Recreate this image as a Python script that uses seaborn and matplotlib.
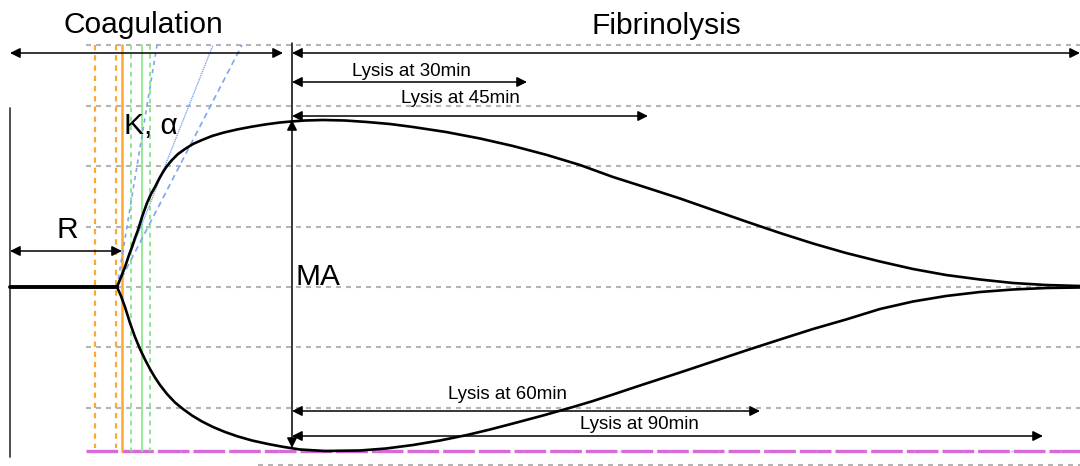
import matplotlib
matplotlib.use("Agg")
import matplotlib.pyplot as plt
import numpy as np
import pandas as pd
import seaborn as sns

# Thromboelastogram trace, schematic time units (horizontal) and amplitude
# measured from the baseline (vertical, px-like units).
baseline_time = [10, 117]

upper_time = [117, 121, 125, 129, 132, 135, 138, 142, 147, 151, 155, 159, 163, 167, 172,
              178, 185, 193, 202, 212, 224, 237, 250, 265, 280, 291, 305, 323, 345, 367,
              390, 413, 446, 480, 513, 547, 580, 613, 646, 680, 713, 746, 780, 813, 846,
              880, 913, 946, 980, 1013, 1046, 1080]
upper_amp = [0, 10, 20, 32, 40, 49, 57, 70, 84, 93, 100, 108, 115, 121, 127,
             133, 138, 143, 147, 151, 154.5, 157.5, 160, 162.5, 164.5, 165.5, 166.5, 167, 166.5, 165,
             163, 160, 155, 148.5, 141, 132, 122, 110, 99.5, 88.5, 77, 65.5, 54, 43.5, 34,
             25.5, 18, 12, 7.5, 4, 2, 1]

lower_time = [117, 121, 125, 130, 135, 140, 145, 150, 155, 160, 167, 175, 183, 192, 202,
              213, 225, 238, 252, 268, 284, 300, 325, 360, 386, 413, 440, 467, 490, 513,
              543, 573, 593, 613, 637, 660, 680, 713, 746, 780, 813, 846, 880, 913, 946,
              980, 1013, 1046, 1080]
lower_amp = [0, 9, 20, 36, 50, 62, 72.5, 82, 90.5, 98, 107, 115.5, 122, 128.5, 134.5,
             140, 145, 149.5, 153.5, 157, 160, 162.5, 164, 163.5, 161.5, 158, 153.5, 148, 142.5, 136.5,
             128.5, 120, 114, 107.5, 99.5, 92, 85.5, 74.5, 63.5, 52.5, 42, 32.5, 22, 14.5, 9,
             5, 2.5, 1, 0.5]

# Reference markers on the time axis
r_time = 122          # end of reaction time R
ma_time = 292         # time of maximum amplitude
lysis_minutes = [30, 45, 60, 90]
lysis_end_time = [527, 648, 760, 1043]
orange_dotted = [95, 116]
orange_solid = [122]
green_dotted = [131, 150]
green_solid = [142]
alpha_tangent_top = [157, 213, 242]   # where the angle lines reach the top grid row

BASE = 287
GRID_ROWS = [45, 106, 166, 227, 287, 347, 408]

sns.set_style("white")
plt.rcParams["font.family"] = ["Liberation Sans", "DejaVu Sans"]

fig = plt.figure(figsize=(10.8, 4.66), dpi=100)
ax = fig.add_axes([0, 0, 1, 1])
ax.set_xlim(0, 1080)
ax.set_ylim(466, 0)
ax.axis("off")

grid_kw = dict(color="#b4b4b4", lw=1.5, dashes=(2.4, 2.4), zorder=1)
for gy in GRID_ROWS:
    ax.plot([86, 1080], [gy, gy], **grid_kw)
ax.plot([258, 1080], [465, 465], **grid_kw)

# baseline of the plot area (magenta) with light-blue tick marks
ax.plot([86, 1080], [451, 451], color="#d86ad8", lw=2.4, dashes=(9.5, 1.2), zorder=2)
ax.plot([131, 1080], [451, 451], color="#7ab8f5", lw=1.0, dashes=(1.2, 34), zorder=3)

# timing guide lines
vkw = dict(zorder=2)
for x in orange_dotted:
    ax.plot([x, x], [45, 448], color="#ffa733", lw=1.6, dashes=(2.4, 2.2), **vkw)
for x in orange_solid:
    ax.plot([x, x], [45, 451], color="#ffa733", lw=1.8, **vkw)
for x in green_dotted:
    ax.plot([x, x], [45, 451], color="#8ee88e", lw=1.4, dashes=(2.4, 2.2), **vkw)
for x in green_solid:
    ax.plot([x, x], [45, 451], color="#8ee88e", lw=1.3, **vkw)

# alpha-angle tangent lines
styles = [dict(dashes=(2.5, 2.5), lw=1.2), dict(dashes=(1, 0.6), lw=1.0), dict(dashes=(3.5, 2.5), lw=1.2)]
for xt, st in zip(alpha_tangent_top, styles):
    ax.plot([117, xt], [BASE, 45], color="#7aa8f0", zorder=2, **st)

# the trace
ax.plot([10, 10], [108, 457], color="#404040", lw=1.3, zorder=4)
sns.lineplot(x=baseline_time, y=[BASE, BASE], ax=ax, color="black", lw=2.8,
             sort=False, estimator=None, zorder=5)
up = pd.DataFrame({"t": upper_time, "y": BASE - np.asarray(upper_amp)})
lo = pd.DataFrame({"t": lower_time, "y": BASE + np.asarray(lower_amp)})
line_kw = dict(ax=ax, color="black", lw=1.9, sort=False, estimator=None, zorder=5)
sns.lineplot(data=up, x="t", y="y", **line_kw)
sns.lineplot(data=lo, x="t", y="y", **line_kw)
for ln in ax.lines[-2:]:
    ln.set_solid_joinstyle("round")


def arrow(x0, y0, x1, y1, style="<|-|>"):
    ax.annotate("", xy=(x1, y1), xytext=(x0, y0),
                arrowprops=dict(arrowstyle=style, color="black", lw=1.1,
                                mutation_scale=15, shrinkA=0, shrinkB=0),
                zorder=6)


# phase arrows
arrow(10, 53, 283, 53)
arrow(ma_time, 53, 1080, 53)
ax.plot([ma_time, ma_time], [43, 122], color="black", lw=1.1, zorder=6)
arrow(ma_time, 120, ma_time, 448)
arrow(10, 251, r_time, 251)

# lysis arrows
lysis_rows = [82, 116, 411, 436]
for end, row in zip(lysis_end_time, lysis_rows):
    arrow(ma_time, row, end, row)

big = dict(fontsize=21.5, color="black", zorder=7)
ax.text(143, 33, "Coagulation", ha="center", va="baseline", **big)
ax.text(666, 34, "Fibrinolysis", ha="center", va="baseline", **big)
ax.text(124, 134, "K, α", ha="left", va="baseline", **big)
ax.text(67, 238, "R", ha="center", va="baseline", **big)
ax.text(296, 285, "MA", ha="left", va="baseline", **big)

small = dict(fontsize=13.5, color="black", zorder=7, ha="center", va="baseline")
lysis_label_pos = [(411, 76), (460, 103), (507, 399), (639, 429)]
for m, (lx, ly) in zip(lysis_minutes, lysis_label_pos):
    ax.text(lx, ly, f"Lysis at {m}min", **small)

fig.savefig("out.png", dpi=100)
